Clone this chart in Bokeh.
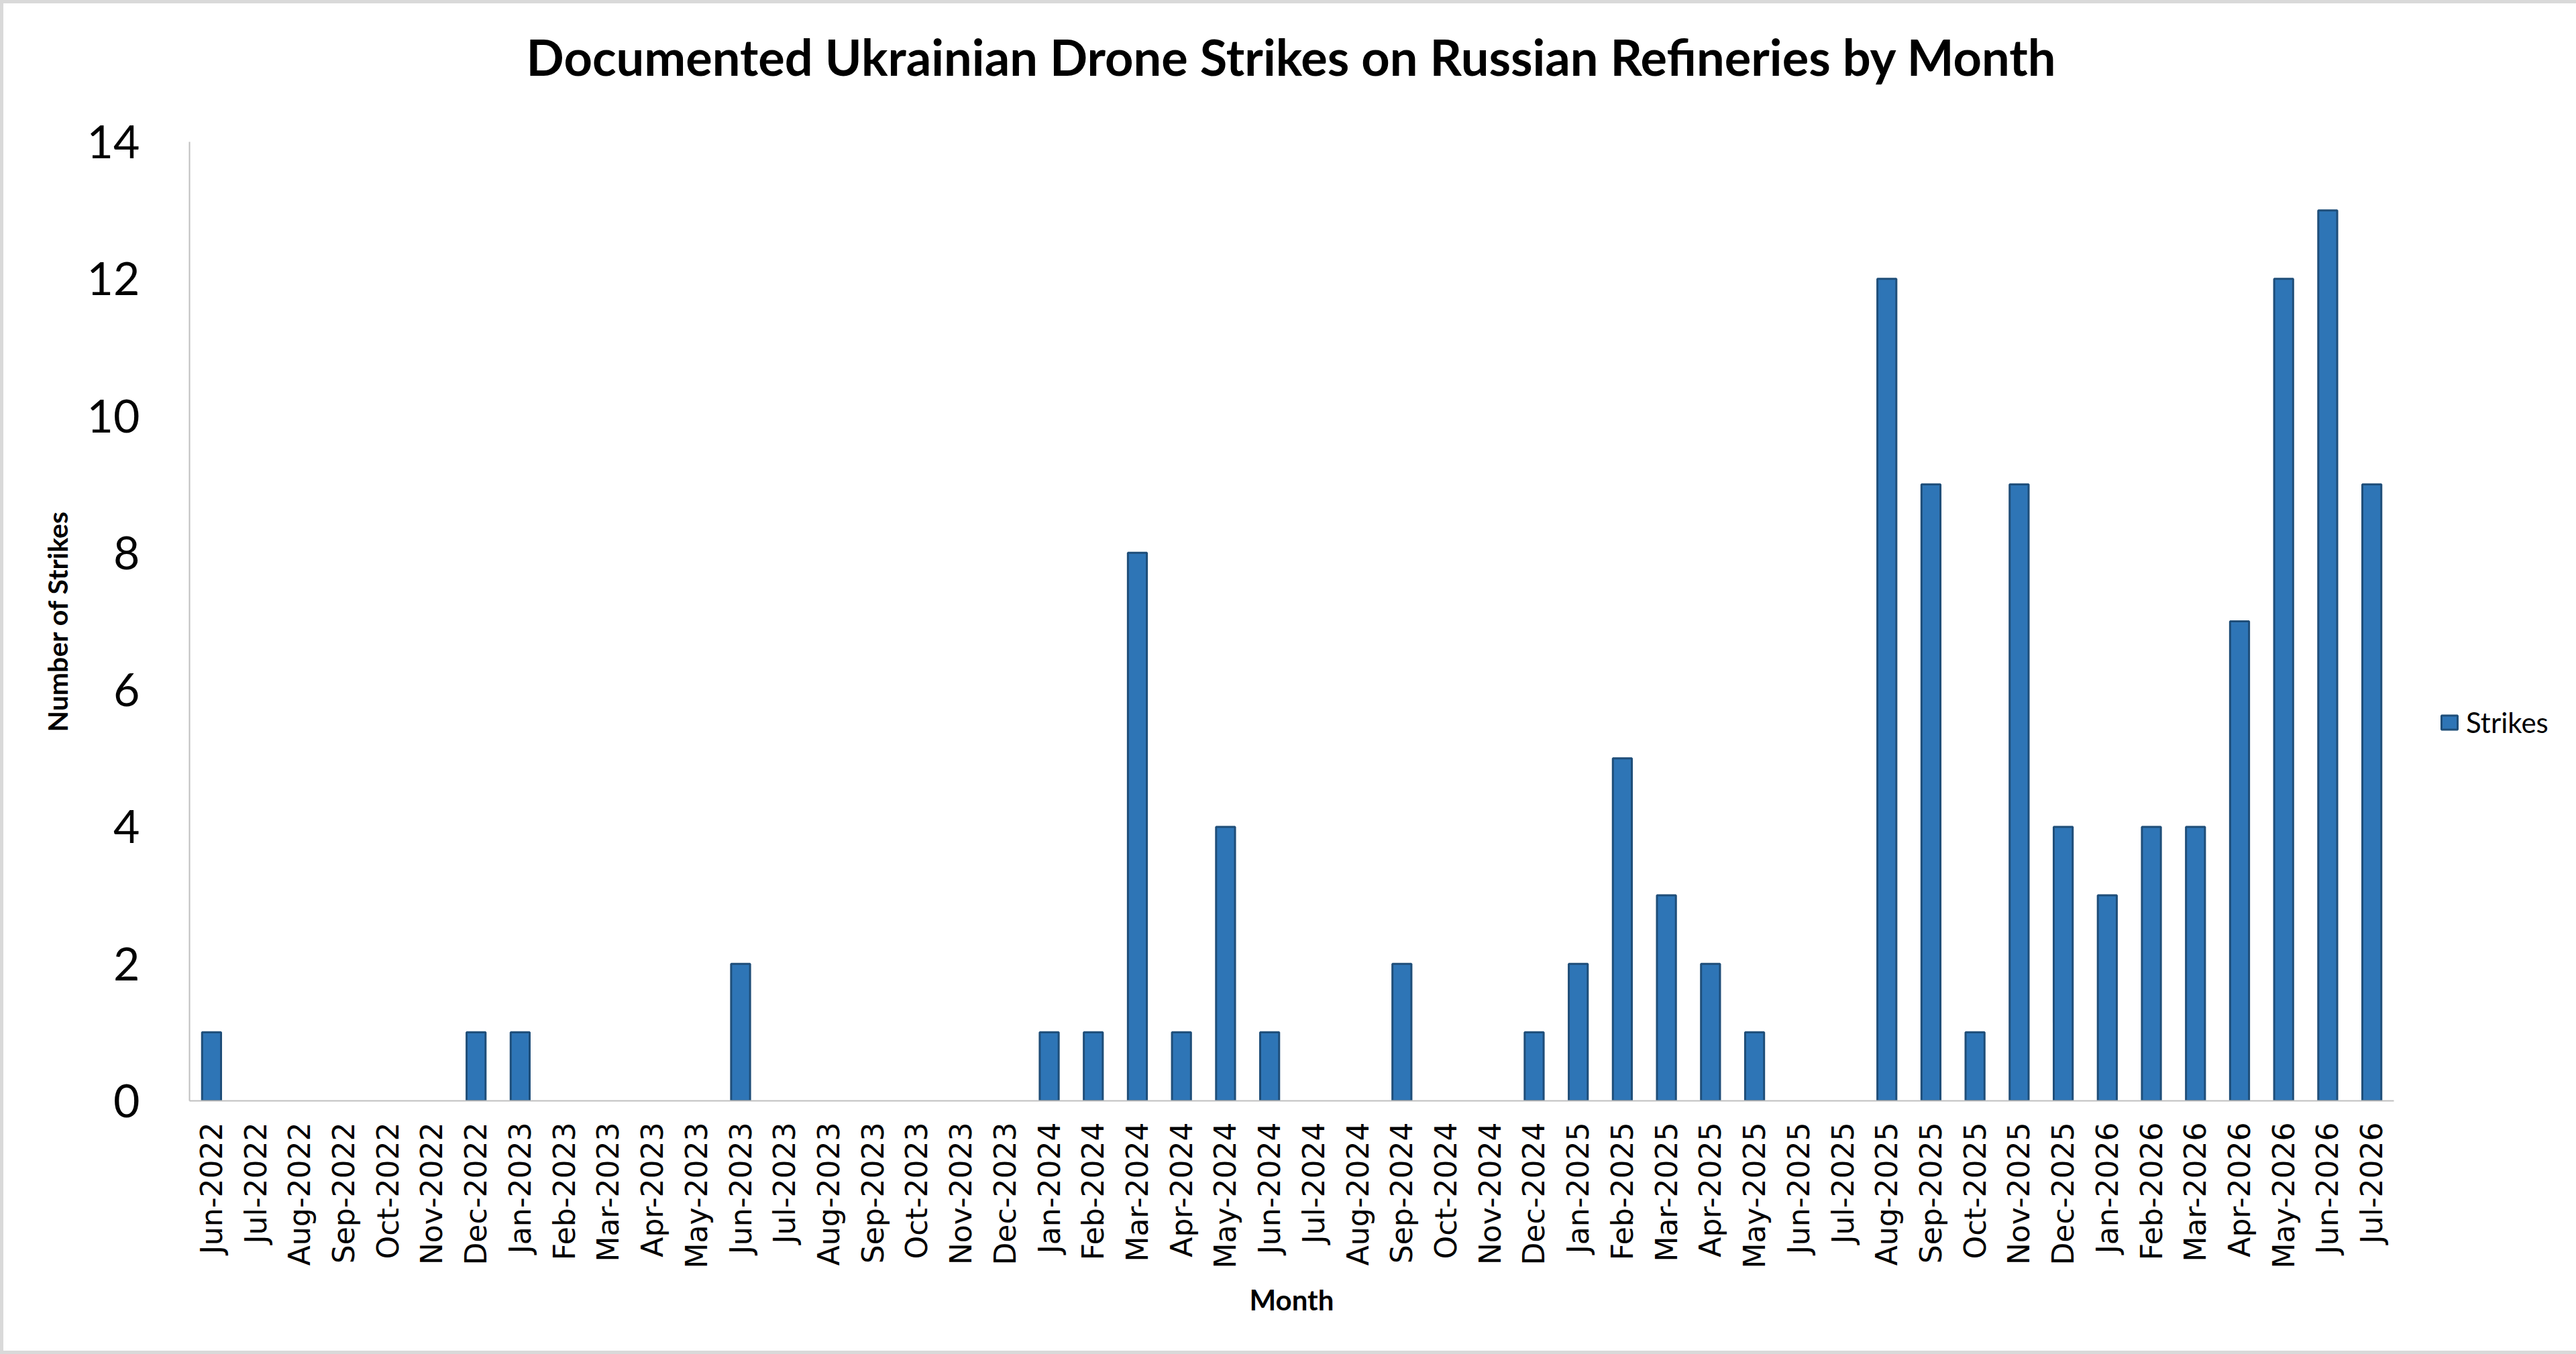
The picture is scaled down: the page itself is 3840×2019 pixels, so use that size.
import math
from bokeh.plotting import figure
from bokeh.models import (FactorRange, Range1d, FixedTicker, ColumnDataSource,
                          CDSView, BooleanFilter, Legend, LegendItem)
from bokeh.embed import file_html
from bokeh.resources import INLINE

# ---- data ----
months = [
    "Jun-2022", "Jul-2022", "Aug-2022", "Sep-2022", "Oct-2022", "Nov-2022", "Dec-2022",
    "Jan-2023", "Feb-2023", "Mar-2023", "Apr-2023", "May-2023", "Jun-2023", "Jul-2023",
    "Aug-2023", "Sep-2023", "Oct-2023", "Nov-2023", "Dec-2023",
    "Jan-2024", "Feb-2024", "Mar-2024", "Apr-2024", "May-2024", "Jun-2024", "Jul-2024",
    "Aug-2024", "Sep-2024", "Oct-2024", "Nov-2024", "Dec-2024",
    "Jan-2025", "Feb-2025", "Mar-2025", "Apr-2025", "May-2025", "Jun-2025", "Jul-2025",
    "Aug-2025", "Sep-2025", "Oct-2025", "Nov-2025", "Dec-2025",
    "Jan-2026", "Feb-2026", "Mar-2026", "Apr-2026", "May-2026", "Jun-2026", "Jul-2026",
]
strikes = [
    1, 0, 0, 0, 0, 0, 1,
    1, 0, 0, 0, 0, 2, 0,
    0, 0, 0, 0, 0,
    1, 1, 8, 1, 4, 1, 0,
    0, 2, 0, 0, 1,
    2, 5, 3, 2, 1, 0, 0,
    12, 9, 1, 9, 4,
    3, 4, 4, 7, 12, 13, 9,
]
y_ticks = [0, 2, 4, 6, 8, 10, 12, 14]

title_text = "Documented Ukrainian Drone Strikes on Russian Refineries by Month"
series_name = "Strikes"
x_title = "Month"
y_title = "Number of Strikes"

# ---- figure ----
p = figure(
    x_range=FactorRange(*months),
    y_range=Range1d(0, 14),
    frame_width=3286, frame_height=1430,
    output_backend="svg", toolbar_location=None,
    min_border_left=277, min_border_right=0,
    min_border_top=206, min_border_bottom=373,
)
p.styles = {"border": "5px solid #d9d9d9"}
p.background_fill_color = "white"
p.border_fill_color = "white"
p.outline_line_color = None
p.xgrid.grid_line_color = None
p.ygrid.grid_line_color = None

p.title.text = title_text
p.title.align = "center"
p.title.text_font = "Lato"
p.title.text_font_style = "bold"
p.title.text_font_size = "74px"
p.title.text_color = "black"
p.title.standoff = 0
p.title.padding = (0, 0, 0, 83)

src = ColumnDataSource(dict(month=months, strikes=strikes))
view = CDSView(filter=BooleanFilter([v > 0 for v in strikes]))
r = p.vbar(x="month", top="strikes", width=0.43, source=src, view=view,
           fill_color="#2e75b6", line_color="#1f4e79", line_width=3)

# y axis
yax = p.yaxis[0]
yax.ticker = FixedTicker(ticks=y_ticks)
yax.axis_line_color = "#bfbfbf"
yax.axis_line_width = 2
yax.major_tick_line_color = None
yax.minor_tick_line_color = None
yax.major_tick_out = 0
yax.major_tick_in = 0
yax.major_label_standoff = 74
yax.major_label_text_font = "Lato"
yax.major_label_text_font_size = "68px"
yax.major_label_text_color = "black"
yax.axis_label = y_title
yax.axis_label_text_font = "Lato"
yax.axis_label_text_font_style = "bold"
yax.axis_label_text_font_size = "41px"
yax.axis_label_text_color = "black"
yax.axis_label_standoff = 17

# x axis
xax = p.xaxis[0]
xax.axis_line_color = "#bfbfbf"
xax.axis_line_width = 2
xax.major_tick_line_color = None
xax.minor_tick_line_color = None
xax.major_tick_out = 0
xax.major_tick_in = 0
xax.major_label_orientation = math.pi / 2
xax.major_label_standoff = 32
xax.major_label_text_font = "DejaVu Sans"
xax.major_label_text_font_size = "44px"
xax.major_label_text_color = "black"
xax.axis_label = x_title
xax.axis_label_text_font = "Lato"
xax.axis_label_text_font_style = "bold"
xax.axis_label_text_font_size = "42px"
xax.axis_label_text_color = "black"
xax.axis_label_standoff = 18

legend = Legend(items=[LegendItem(label=series_name, renderers=[r])],
                location=(68, 539))
legend.border_line_color = None
legend.background_fill_alpha = 0
legend.padding = 0
legend.margin = 0
legend.spacing = 0
legend.glyph_width = 30
legend.glyph_height = 26
legend.label_standoff = 10
legend.label_text_font = "Lato"
legend.label_text_font_size = "42px"
legend.label_text_color = "black"
p.add_layout(legend, "right")

open("out.html", "w").write(file_html(p, INLINE))
